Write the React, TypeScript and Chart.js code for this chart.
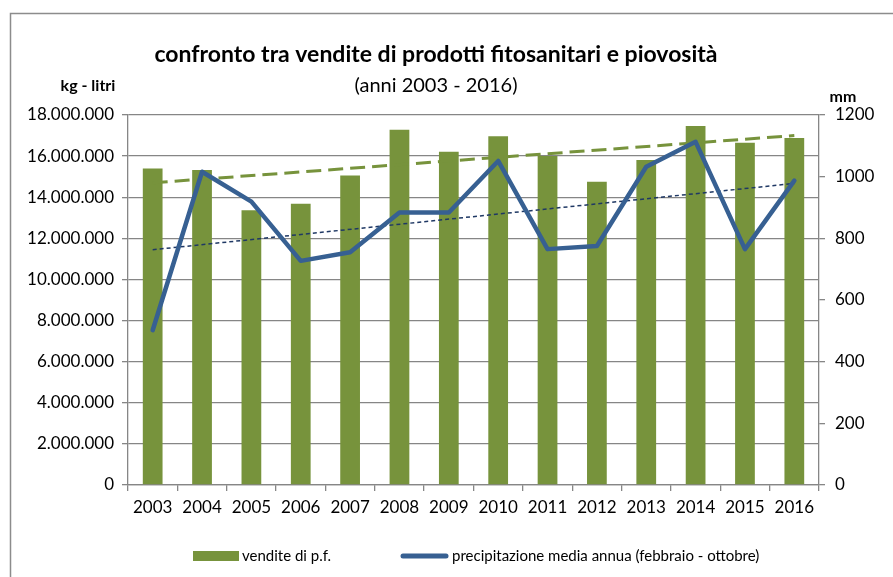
import React, { useEffect, useRef } from "react";
import { Chart, registerables } from "chart.js";

Chart.register(...registerables);

const years = ["2003", "2004", "2005", "2006", "2007", "2008", "2009", "2010", "2011", "2012", "2013", "2014", "2015", "2016"];
const sales = [15400000, 15320000, 13370000, 13680000, 15060000, 17280000, 16210000, 16970000, 16000000, 14750000, 15810000, 17460000, 16650000, 16880000];
const rain = [502, 1016, 919, 727, 755, 884, 884, 1051, 765, 775, 1032, 1113, 765, 987];
const salesTrend = [14700000, null, null, null, null, null, null, null, null, null, null, null, null, 17000000];
const rainTrend = [763, null, null, null, null, null, null, null, null, null, null, null, null, 978];

const leftMax = 18000000;
const leftStep = 2000000;
const rightMax = 1200;
const rightStep = 200;

const titleText = "confronto tra vendite di prodotti fitosanitari e piovosità";
const subtitleText = "(anni 2003 - 2016)";
const leftUnit = "kg - litri";
const rightUnit = "mm";
const salesLabel = "vendite di p.f.";
const rainLabel = "precipitazione media annua (febbraio - ottobre)";

const FONT = "Lato, 'Open Sans', sans-serif";
const GREEN = "#77933C";
const BLUE = "#376092";
const NAVY = "#1F3864";
const GRID = "#868686";

const fmt = (v: number) => String(Math.round(v)).replace(/\B(?=(\d{3})+(?!\d))/g, ".");

const decor = {
  id: "decor",
  beforeDraw(chart: any) {
    const ctx = chart.ctx;
    ctx.save();
    ctx.strokeStyle = "#8c8c8c";
    ctx.lineWidth = 1.5;
    ctx.beginPath();
    ctx.moveTo(10.5, 577);
    ctx.lineTo(10.5, 13.5);
    ctx.lineTo(893, 13.5);
    ctx.stroke();
    ctx.restore();
  },
  afterDraw(chart: any) {
    const ctx = chart.ctx;
    ctx.save();
    ctx.fillStyle = "#000";
    ctx.textAlign = "center";
    ctx.textBaseline = "middle";
    ctx.font = `bold 23px ${FONT}`;
    ctx.fillText(titleText, 436, 55);
    ctx.font = `20px ${FONT}`;
    ctx.fillText(subtitleText, 436, 86);
    ctx.font = `bold 16px ${FONT}`;
    ctx.fillText(leftUnit, 88, 86);
    ctx.fillText(rightUnit, 843, 97);

    // legend
    const ly = 556;
    ctx.fillStyle = GREEN;
    ctx.fillRect(193, ly - 5, 46, 10);
    ctx.strokeStyle = BLUE;
    ctx.lineWidth = 5;
    ctx.lineCap = "round";
    ctx.beginPath();
    ctx.moveTo(403, ly);
    ctx.lineTo(446, ly);
    ctx.stroke();
    ctx.fillStyle = "#000";
    ctx.textAlign = "left";
    ctx.font = `15px ${FONT}`;
    ctx.fillText(salesLabel, 242, ly);
    ctx.fillText(rainLabel, 452, ly);
    ctx.restore();
  },
};

export default function App() {
  const ref = useRef<HTMLCanvasElement>(null);
  useEffect(() => {
    if (!ref.current) return;
    const chart = new Chart(ref.current, {
      type: "bar",
      data: {
        labels: years,
        datasets: [
          {
            type: "line",
            label: rainLabel,
            data: rain,
            yAxisID: "y1",
            borderColor: BLUE,
            backgroundColor: BLUE,
            borderWidth: 4.5,
            pointRadius: 0,
            tension: 0,
            borderJoinStyle: "round",
            borderCapStyle: "round",
            order: 1,
          } as any,
          {
            type: "line",
            label: "trend precipitazione",
            data: rainTrend,
            yAxisID: "y1",
            borderColor: NAVY,
            borderWidth: 1.5,
            borderDash: [4, 3],
            pointRadius: 0,
            spanGaps: true,
            order: 2,
          } as any,
          {
            type: "line",
            label: "trend vendite",
            data: salesTrend,
            yAxisID: "y",
            borderColor: GREEN,
            borderWidth: 3,
            borderDash: [15, 7],
            pointRadius: 0,
            spanGaps: true,
            order: 3,
          } as any,
          {
            type: "bar",
            label: salesLabel,
            data: sales,
            yAxisID: "y",
            backgroundColor: GREEN,
            borderWidth: 0,
            categoryPercentage: 1,
            barPercentage: 0.4,
            order: 4,
          },
        ],
      },
      options: {
        responsive: false,
        animation: false,
        layout: { padding: { left: 0, right: 0, top: 115, bottom: 0 } },
        plugins: {
          legend: { display: false },
          title: { display: false },
          tooltip: { enabled: false },
        },
        scales: {
          x: {
            grid: { offset: true, drawOnChartArea: false, tickLength: 6, color: GRID, lineWidth: 1.3 },
            border: { display: true, color: GRID, width: 1.3 },
            ticks: { color: "#000", font: { family: FONT, size: 17 }, padding: 6, maxRotation: 0 },
            afterFit: (s: any) => { s.height = 92; },
          },
          y: {
            position: "left",
            min: 0,
            max: leftMax,
            grid: { color: GRID, lineWidth: 1.3, tickLength: 6 },
            border: { display: true, color: GRID, width: 1.3 },
            ticks: { stepSize: leftStep, color: "#000", font: { family: FONT, size: 17 }, padding: 8, callback: (v: any) => fmt(Number(v)) },
            afterFit: (s: any) => { s.width = 128; },
          },
          y1: {
            position: "right",
            min: 0,
            max: rightMax,
            grid: { drawOnChartArea: false, color: GRID, lineWidth: 1.3, tickLength: 6 },
            border: { display: true, color: GRID, width: 1.3 },
            ticks: { stepSize: rightStep, color: "#000", font: { family: FONT, size: 17 }, padding: 10, callback: (v: any) => String(v) },
            afterFit: (s: any) => { s.width = 74; },
          },
        },
      } as any,
      plugins: [decor],
    });
    return () => chart.destroy();
  }, []);
  return (
    <div style={{ position: "fixed", left: 0, top: 0, width: 893, height: 577, background: "#fff", overflow: "hidden" }}>
      <canvas ref={ref} width={893} height={577} style={{ display: "block" }} />
    </div>
  );
}
